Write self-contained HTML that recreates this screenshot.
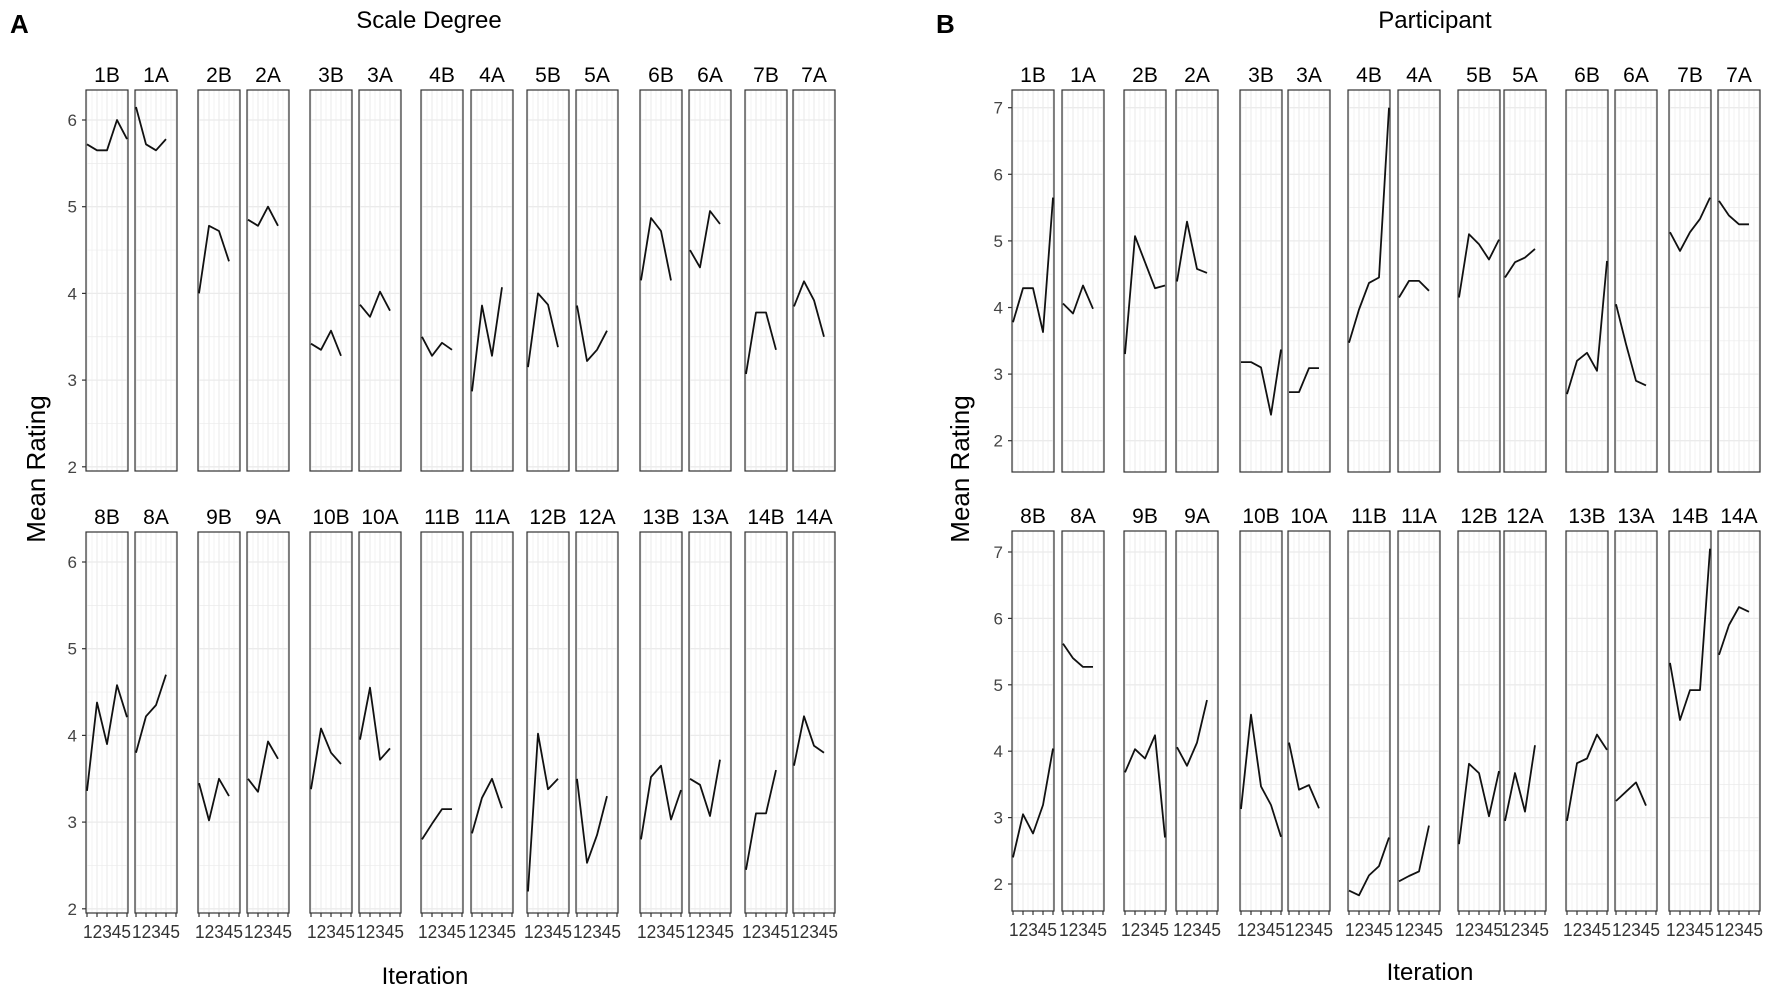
<!DOCTYPE html>
<html><head><meta charset="utf-8"><style>
html,body{margin:0;padding:0;background:#fff}
svg{display:block}
text{font-family:"Liberation Sans",Arial,sans-serif}
</style></head><body>
<svg id="s" xmlns="http://www.w3.org/2000/svg" width="1772" height="988" viewBox="0 0 1772 988">
<rect width="1772" height="988" fill="#fff"/>
<text x="10" y="33" font-size="26" font-weight="bold">A</text>
<text x="936" y="33" font-size="26" font-weight="bold">B</text>
<text x="429" y="28" font-size="24" text-anchor="middle">Scale Degree</text>
<text x="1435" y="28" font-size="24" text-anchor="middle">Participant</text>
<text transform="translate(45,469) rotate(-90)" font-size="26" text-anchor="middle">Mean Rating</text>
<text transform="translate(969,469) rotate(-90)" font-size="26" text-anchor="middle">Mean Rating</text>
<text x="425" y="984" font-size="24" text-anchor="middle">Iteration</text>
<text x="1430" y="980" font-size="24" text-anchor="middle">Iteration</text>
<g id="g"></g>
</svg>
<script>
var NS="http://www.w3.org/2000/svg",G=document.getElementById("g");
function el(t,a,txt){var e=document.createElementNS(NS,t);for(var k in a)e.setAttribute(k,a[k]);if(txt!=null)e.textContent=txt;G.appendChild(e);return e;}
var AX=[86,135,198,247,310,359,421,471,527,576,640,689,745,793];
var BX=[1012,1062,1124,1176,1240,1288,1348,1398,1458,1504,1566,1615,1669,1718];
var W=42;
var rows=[
 {xs:AX,xl:false,top:90,bot:471,y0:120,v0:6,k:86.7,ticks:[2,3,4,5,6],ylo:1.95,yhi:6.35,
  labels:["1B","1A","2B","2A","3B","3A","4B","4A","5B","5A","6B","6A","7B","7A"],
  data:[[5.72,5.65,5.65,6.0,5.78],[6.15,5.72,5.65,5.78],[4.0,4.78,4.72,4.37],[4.85,4.78,5.0,4.78],[3.42,3.35,3.57,3.28],[3.87,3.73,4.02,3.8],[3.5,3.28,3.43,3.35],[2.87,3.86,3.28,4.07],[3.15,4.0,3.87,3.38],[3.86,3.22,3.35,3.57],[4.15,4.87,4.72,4.15],[4.5,4.3,4.95,4.8],[3.07,3.78,3.78,3.35],[3.85,4.14,3.92,3.5]]},
 {xs:AX,xl:true,top:532,bot:913,y0:562,v0:6,k:86.7,ticks:[2,3,4,5,6],ylo:1.95,yhi:6.35,
  labels:["8B","8A","9B","9A","10B","10A","11B","11A","12B","12A","13B","13A","14B","14A"],
  data:[[3.36,4.38,3.9,4.58,4.21],[3.8,4.22,4.35,4.7],[3.45,3.02,3.5,3.3],[3.5,3.35,3.93,3.73],[3.38,4.08,3.8,3.67],[3.95,4.55,3.72,3.85],[2.8,2.98,3.15,3.15],[2.87,3.28,3.5,3.16],[2.2,4.02,3.38,3.5],[3.5,2.53,2.85,3.3],[2.8,3.52,3.65,3.03,3.37],[3.5,3.43,3.07,3.72],[2.45,3.1,3.1,3.6],[3.65,4.22,3.88,3.8]]},
 {xs:BX,xl:false,top:90,bot:472,y0:107.7,v0:7,k:66.6,ticks:[2,3,4,5,6,7],ylo:1.53,yhi:7.27,
  labels:["1B","1A","2B","2A","3B","3A","4B","4A","5B","5A","6B","6A","7B","7A"],
  data:[[3.78,4.29,4.29,3.63,5.65],[4.06,3.91,4.33,3.98],[3.3,5.07,4.68,4.29,4.33],[4.39,5.29,4.58,4.52],[3.18,3.18,3.1,2.39,3.37],[2.73,2.73,3.09,3.09],[3.47,3.97,4.37,4.45,7.0],[4.15,4.4,4.4,4.25],[4.15,5.1,4.95,4.72,5.02],[4.45,4.68,4.75,4.88],[2.7,3.2,3.32,3.05,4.7],[4.05,3.45,2.9,2.83],[5.13,4.85,5.13,5.33,5.65],[5.6,5.38,5.25,5.25]]},
 {xs:BX,xl:true,top:531,bot:911,y0:552,v0:7,k:66.4,ticks:[2,3,4,5,6,7],ylo:1.53,yhi:7.27,
  labels:["8B","8A","9B","9A","10B","10A","11B","11A","12B","12A","13B","13A","14B","14A"],
  data:[[2.4,3.05,2.76,3.19,4.04],[5.62,5.4,5.27,5.27],[3.68,4.03,3.89,4.24,2.7],[4.06,3.78,4.13,4.77],[3.13,4.55,3.47,3.19,2.71],[4.13,3.42,3.49,3.14],[1.9,1.83,2.13,2.27,2.7],[2.04,2.12,2.19,2.88],[2.6,3.81,3.67,3.02,3.7],[2.95,3.67,3.09,4.09],[2.95,3.82,3.89,4.25,4.02],[3.25,3.39,3.53,3.18],[5.33,4.47,4.92,4.92,7.05],[5.45,5.9,6.17,6.1]]}
];
rows.forEach(function(r){
  function Y(v){return r.y0+(r.v0-v)*r.k;}
  r.xs.forEach(function(x0,i){
    var H=r.bot-r.top;
    el("rect",{x:x0,y:r.top,width:W,height:H,fill:"#fff"});
    function X(t){return x0+1+(t-1)*(W-2)/4;}
    for(var t=1;t<=5;t+=0.5){var xx=X(t);el("line",{x1:xx,x2:xx,y1:r.top,y2:r.bot,stroke:"#ebebeb","stroke-width":t%1?0.6:1.1});}
    for(var v=Math.ceil(r.ylo*2)/2;v<=r.yhi;v+=0.5){var yy=Y(v);el("line",{x1:x0,x2:x0+W,y1:yy,y2:yy,stroke:"#ebebeb","stroke-width":v%1?0.7:1.3});}
    el("rect",{x:x0,y:r.top,width:W,height:H,fill:"none",stroke:"#333","stroke-width":1.2});
    el("text",{x:x0+W/2,y:r.top-8,"font-size":21,"text-anchor":"middle"},r.labels[i]);
    var d=r.data[i],p=d.map(function(v,j){return X(j+1).toFixed(1)+","+Y(v).toFixed(1);}).join(" ");
    el("polyline",{points:p,fill:"none",stroke:"#111","stroke-width":1.8,"stroke-linejoin":"round"});
    if(r.xl){
      for(var t2=1;t2<=5;t2++){var xt=X(t2);el("line",{x1:xt,x2:xt,y1:r.bot,y2:r.bot+4,stroke:"#333","stroke-width":1.2});}
      el("text",{x:x0+W/2,y:r.bot+25,"font-size":18,"text-anchor":"middle",fill:"#333",textLength:W+6,lengthAdjust:"spacingAndGlyphs"},"12345");
    }
    if(i==0){
      r.ticks.forEach(function(v){var yy=Y(v);
        el("line",{x1:x0-4,x2:x0,y1:yy,y2:yy,stroke:"#333","stroke-width":1.2});
        el("text",{x:x0-9,y:yy+6,"font-size":17,"text-anchor":"end",fill:"#444"},String(v));});
    }
  });
});
</script>
</body></html>
